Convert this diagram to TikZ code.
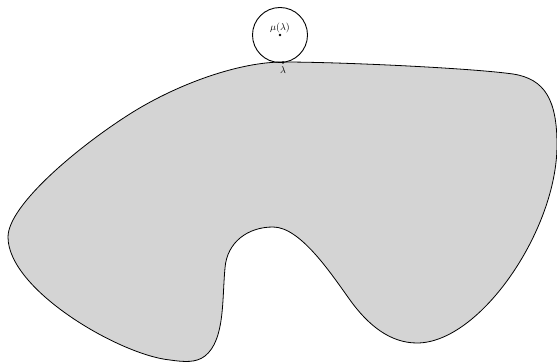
\documentclass[tikz,border=0pt]{standalone}
\begin{document}
\begin{tikzpicture}[x=1pt,y=-1pt,
  region/.style={draw=black,fill=black!17,line width=0.8pt},
  ball/.style={draw=black,line width=0.9pt,circle,minimum size=55pt,inner sep=0pt},
  pt/.style={circle,fill=black,inner sep=0pt,minimum size=2.8pt},
  lbl/.style={font=\normalsize,inner sep=1pt}]
\useasboundingbox (0,0) rectangle (557,363);
\draw[region]
  (8,237) .. controls (8,205) and (80,145) .. (133,112)
  .. controls (180,83) and (240,62) .. (283,62)
  .. controls (340,62) and (470,68) .. (513,74)
  .. controls (545,79) and (557,100) .. (557,145)
  .. controls (557,230) and (480,343) .. (417,343)
  .. controls (390,343) and (368,325) .. (350,300)
  .. controls (330,272) and (300,227) .. (273,227)
  .. controls (248,227) and (227,242) .. (225,268)
  .. controls (222,300) and (225,340) .. (205,356)
  .. controls (196,363) and (184,362) .. (170,360)
  .. controls (120,355) and (8,290) .. (8,237) -- cycle;
\node[ball] (mu) at (280,35) {};
\node[pt] (c) at (mu.center) {};
\node[lbl,above=0.5pt] (mul) at (c) {$\mu(\lambda)$};
\node[pt] (lam) at (283,62.5) {};
\node[lbl,below=2.5pt] (laml) at (lam) {$\lambda$};
\end{tikzpicture}
\end{document}
